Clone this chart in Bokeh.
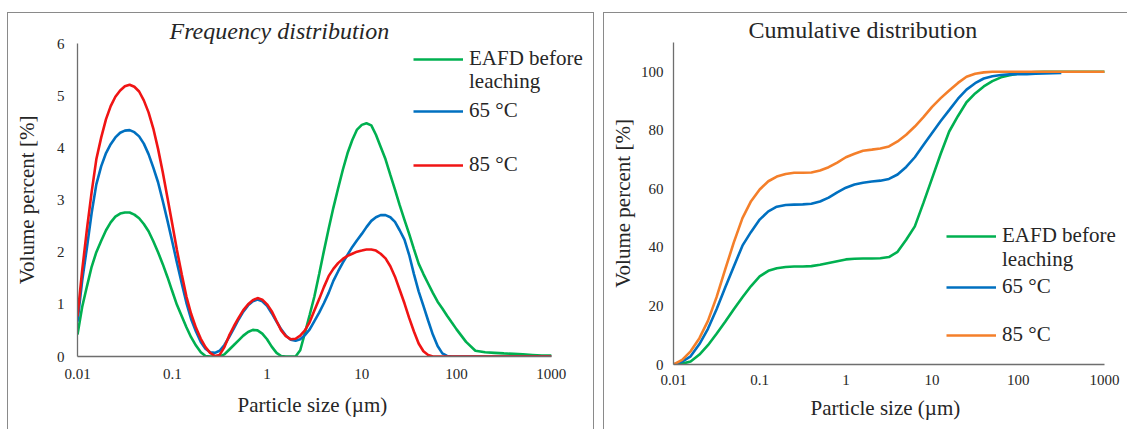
import math
from bokeh.plotting import figure
from bokeh.models import Range1d, FixedTicker, CustomJSTickFormatter, Legend, LegendItem, Title
from bokeh.embed import file_html
from bokeh.resources import INLINE

# ---------------- data: frequency distribution ----------------
size_freq = [0.01, 0.0112, 0.0126, 0.0141, 0.0158, 0.0178, 0.02, 0.0224, 0.0251, 0.0282,
             0.0316, 0.0355, 0.0398, 0.0447, 0.0501, 0.0562, 0.0631, 0.0708, 0.0794, 0.0891,
             0.1, 0.112, 0.126, 0.141, 0.158, 0.178, 0.2, 0.224, 0.251, 0.282,
             0.316, 0.355, 0.398, 0.447, 0.501, 0.562, 0.631, 0.708, 0.794, 0.891,
             1.0, 1.12, 1.26, 1.41, 1.58, 1.78, 2.0, 2.24, 2.51, 2.82,
             3.16, 3.55, 3.98, 4.47, 5.01, 5.62, 6.31, 7.08, 7.94, 8.91,
             10, 11.2, 12.6, 14.1, 15.8, 17.8, 20, 22.4, 25.1, 28.2,
             31.6, 35.5, 39.8, 44.7, 50.1, 56.2, 63.1, 70.8, 79.4, 89.1,
             100, 126, 158, 200, 251, 316, 398, 501, 631, 794,
             1000]
freq_eafd = [0.42, 0.95, 1.35, 1.72, 2.0, 2.22, 2.42, 2.57, 2.68, 2.74,
             2.76, 2.76, 2.72, 2.65, 2.54, 2.4, 2.21, 2.0, 1.77, 1.52,
             1.25, 0.99, 0.77, 0.56, 0.37, 0.21, 0.08, 0.01, 0.0, 0.0,
             0.0, 0.04, 0.13, 0.22, 0.31, 0.4, 0.47, 0.51, 0.5, 0.44,
             0.33, 0.19, 0.07, 0.01, 0.0, 0.0, 0.0, 0.12, 0.45, 0.8,
             1.15, 1.58, 2.02, 2.45, 2.85, 3.22, 3.58, 3.9, 4.15, 4.35,
             4.44, 4.47, 4.43, 4.25, 4.02, 3.78, 3.48, 3.2, 2.9, 2.62,
             2.35, 2.06, 1.78, 1.58, 1.4, 1.22, 1.05, 0.92, 0.78, 0.65,
             0.52, 0.28, 0.11, 0.08, 0.07, 0.06, 0.05, 0.04, 0.03, 0.02,
             0.02]
freq_65 = [0.67, 1.45, 2.1, 2.75, 3.3, 3.65, 3.9, 4.07, 4.2, 4.29,
           4.33, 4.34, 4.3, 4.22, 4.08, 3.88, 3.62, 3.34, 2.98, 2.6,
           2.2, 1.8, 1.4, 1.03, 0.72, 0.48, 0.28, 0.15, 0.08, 0.07,
           0.11, 0.22, 0.37, 0.54, 0.71, 0.86, 0.98, 1.06, 1.09, 1.06,
           0.97, 0.83, 0.67, 0.52, 0.4, 0.32, 0.3, 0.33, 0.41, 0.52,
           0.68, 0.84, 1.02, 1.22, 1.45, 1.63, 1.8, 1.95, 2.1, 2.23,
           2.35, 2.48, 2.6, 2.67, 2.71, 2.71, 2.67, 2.58, 2.42, 2.24,
           1.95, 1.58, 1.25, 0.97, 0.69, 0.42, 0.2, 0.06, 0.01, 0.0,
           0.0, 0.0, 0.0, 0.0, 0.0, 0.0, 0.0, 0.0, 0.0, 0.0,
           0.0]
freq_85 = [0.77, 1.65, 2.45, 3.15, 3.78, 4.2, 4.55, 4.8, 4.98, 5.1,
           5.18, 5.21, 5.17, 5.08, 4.91, 4.68, 4.37, 3.98, 3.53, 3.04,
           2.54, 2.04, 1.57, 1.15, 0.82, 0.55, 0.34, 0.18, 0.07, 0.01,
           0.03, 0.18, 0.4, 0.58, 0.74, 0.89, 1.0, 1.08, 1.12, 1.09,
           1.0, 0.87, 0.68, 0.5, 0.39, 0.33, 0.34, 0.4, 0.5, 0.66,
           0.88, 1.1, 1.33, 1.54, 1.68, 1.79, 1.87, 1.93, 1.97, 2.01,
           2.03, 2.05, 2.05, 2.03, 1.97, 1.88, 1.73, 1.53, 1.28, 1.02,
           0.74, 0.48, 0.25, 0.1, 0.03, 0.0, 0.0, 0.0, 0.0, 0.0,
           0.0, 0.0, 0.0, 0.0, 0.0, 0.0, 0.0, 0.0, 0.0, 0.0,
           0.0]

# ---------------- data: cumulative distribution ----------------
size_cum = [0.01, 0.0126, 0.0158, 0.02, 0.0251, 0.0316, 0.0398, 0.0501, 0.0631, 0.0794,
            0.1, 0.126, 0.158, 0.2, 0.251, 0.316, 0.398, 0.501, 0.631, 0.794,
            1.0, 1.26, 1.58, 2.0, 2.51, 3.16, 3.98, 5.01, 6.31, 7.94,
            10, 12.6, 15.8, 20, 25.1, 31.6, 39.8, 50.1, 63.1, 79.4,
            100, 126, 158, 200, 251, 316, 398, 501, 631, 794, 1000]
nan = float("nan")
cum_eafd = [0.0, 0.3, 1.0, 3.4, 6.6, 10.5, 14.6, 18.9, 23.0, 26.8,
            30.1, 32.0, 32.9, 33.3, 33.5, 33.5, 33.6, 34.1, 34.7, 35.3,
            35.9, 36.1, 36.2, 36.2, 36.3, 36.7, 38.5, 42.6, 47.2, 55.2,
            63.6, 72.0, 79.6, 84.9, 89.6, 92.6, 95.0, 96.8, 98.1, 98.8,
            99.4, 99.7, 99.9, 100, 100, 100, 100, 100, 100, 100, 100]
cum_65 = [0.0, 1.0, 2.8, 7.0, 12.2, 18.9, 26.3, 33.5, 40.6, 45.3,
          49.5, 52.3, 53.9, 54.5, 54.6, 54.7, 54.9, 55.7, 57.0, 58.8,
          60.4, 61.5, 62.1, 62.5, 62.8, 63.4, 64.9, 67.5, 70.8, 75.0,
          79.1, 83.2, 86.9, 90.8, 93.9, 96.1, 97.7, 98.5, 98.9, 99.1,
          99.2, 99.2, 99.3, 99.4, 99.5, 99.6, nan, nan, nan, nan, nan]
cum_85 = [0.0, 1.6, 4.5, 9.0, 14.9, 23.0, 32.5, 41.7, 50.0, 55.8,
          59.8, 62.6, 64.2, 65.1, 65.5, 65.5, 65.6, 66.3, 67.4, 69.0,
          70.8, 72.0, 73.0, 73.4, 73.8, 74.5, 76.2, 78.5, 81.3, 84.5,
          88.0, 91.0, 93.6, 96.2, 98.3, 99.3, 99.8, 100, 100, 100,
          100, 100, 100, 100, 100, 100, 100, 100, 100, 100, 100]

x_ticks = [0.01, 0.1, 1, 10, 100, 1000]
freq_y_ticks = [0, 1, 2, 3, 4, 5, 6]
cum_y_ticks = [0, 20, 40, 60, 80, 100]
legend_labels = ["EAFD before", "leaching", "65 \u00b0C", "85 \u00b0C"]
x_label = "Particle size (\u00b5m)"
y_label = "Volume percent [%]"

GREEN = "#00B050"
BLUE = "#0070C0"
RED = "#F01414"
ORANGE = "#F47F2A"
FONT = "Liberation Serif"
TXT = "#262626"
AXC = "#6e6e6e"
BORDER = "1px solid #8a8a8a"


def extended_end(frame_px, axis_px):
    # frame is wider than the 0.01..1000 axis; extend the range so 1000 sits at axis_px
    decades = math.log10(x_ticks[-1] / x_ticks[0])
    return x_ticks[0] * 10 ** (decades * frame_px / axis_px)


def style_axes(p, yticks, xlab_offset, xlab_standoff):
    p.xaxis.ticker = FixedTicker(ticks=x_ticks, minor_ticks=[])
    p.xaxis.formatter = CustomJSTickFormatter(code="return String(parseFloat(tick.toPrecision(6)));")
    p.xaxis.bounds = (x_ticks[0], x_ticks[-1])
    p.yaxis.ticker = FixedTicker(ticks=yticks, minor_ticks=[])
    for ax in (p.xaxis[0], p.yaxis[0]):
        ax.major_tick_line_color = None
        ax.minor_tick_line_color = None
        ax.major_tick_out = 0
        ax.major_tick_in = 0
        ax.minor_tick_out = 0
        ax.minor_tick_in = 0
        ax.axis_line_color = AXC
        ax.axis_line_width = 1.3
        ax.major_label_text_font = FONT
        ax.major_label_text_font_size = "15px"
        ax.major_label_text_color = TXT
        ax.axis_label_text_font = FONT
        ax.axis_label_text_font_size = "21px"
        ax.axis_label_text_font_style = "normal"
        ax.axis_label_text_color = TXT
    p.yaxis.axis_label = y_label
    xt = Title(text=x_label, align="left", offset=xlab_offset, standoff=xlab_standoff,
               vertical_align="top", text_font=FONT, text_font_size="21px",
               text_font_style="normal", text_color=TXT)
    p.add_layout(xt, "below")
    p.xgrid.visible = False
    p.ygrid.visible = False
    p.outline_line_color = None


def add_legends(p, renderers, x0, ys):
    for r, lab, y in zip(renderers, legend_labels, ys):
        lg = Legend(items=[LegendItem(label=lab, renderers=[r] if r is not None else [])],
                    location=(x0, y), padding=0, margin=0, spacing=0,
                    border_line_color=None, background_fill_alpha=0,
                    glyph_width=50, glyph_height=24, label_height=24, label_standoff=6,
                    label_text_font=FONT, label_text_font_size="21px",
                    label_text_color=TXT)
        p.add_layout(lg)


# ---------------- left: frequency ----------------
W1, H = 585, 416
p1 = figure(width=W1, height=H, x_axis_type="log",
            x_range=Range1d(x_ticks[0], extended_end(W1 - 69, 472)), y_range=Range1d(0, 6),
            output_backend="svg", toolbar_location=None,
            min_border_left=69, min_border_right=0, min_border_top=30, min_border_bottom=74)
p1.title.text = "Frequency distribution"
p1.title.text_font = FONT
p1.title.text_font_style = "italic"
p1.title.text_font_size = "24px"
p1.title.text_color = TXT
p1.title.align = "left"
p1.title.offset = 92
p1.title.standoff = 0
style_axes(p1, freq_y_ticks, 160, 22)
p1.yaxis.major_label_standoff = 13
p1.yaxis.axis_label_standoff = 15
p1.xaxis.major_label_standoff = 12

g1 = p1.line(size_freq, freq_eafd, line_color=GREEN, line_width=2.6)
b1 = p1.line(size_freq, freq_65, line_color=BLUE, line_width=2.6)
r1 = p1.line(size_freq, freq_85, line_color=RED, line_width=2.6)
add_legends(p1, [g1, None, b1, r1], 336, [285, 262, 233, 179])

# ---------------- right: cumulative ----------------
W2 = 523
p2 = figure(width=W2, height=H, x_axis_type="log",
            x_range=Range1d(x_ticks[0], extended_end(W2 - 69, 430)), y_range=Range1d(0, 110),
            output_backend="svg", toolbar_location=None,
            min_border_left=69, min_border_right=0, min_border_top=29, min_border_bottom=66)
p2.title.text = "Cumulative distribution"
p2.title.text_font = FONT
p2.title.text_font_size = "24px"
p2.title.text_font_style = "normal"
p2.title.text_color = TXT
p2.title.align = "left"
p2.title.offset = 75
p2.title.standoff = 0
style_axes(p2, cum_y_ticks, 137, 16)
p2.yaxis.major_label_standoff = 10
p2.yaxis.axis_label_standoff = 3
p2.xaxis.major_label_standoff = 10

g2 = p2.line(size_cum, cum_eafd, line_color=GREEN, line_width=2.6)
b2 = p2.line(size_cum, cum_65, line_color=BLUE, line_width=2.6)
o2 = p2.line(size_cum, cum_85, line_color=ORANGE, line_width=2.6)
add_legends(p2, [g2, None, b2, o2], 273, [116, 92, 65, 17])

# each panel is placed on its own at the reference position (no shared row alignment)
p1.styles = {"position": "absolute", "left": "7px", "top": "12px", "box-sizing": "content-box",
             "border-top": BORDER, "border-left": BORDER, "border-right": BORDER}
p2.styles = {"position": "absolute", "left": "603px", "top": "12px", "box-sizing": "content-box",
             "border-top": BORDER, "border-left": BORDER}

p = [p1, p2]
open("out.html", "w").write(file_html(p, INLINE))
